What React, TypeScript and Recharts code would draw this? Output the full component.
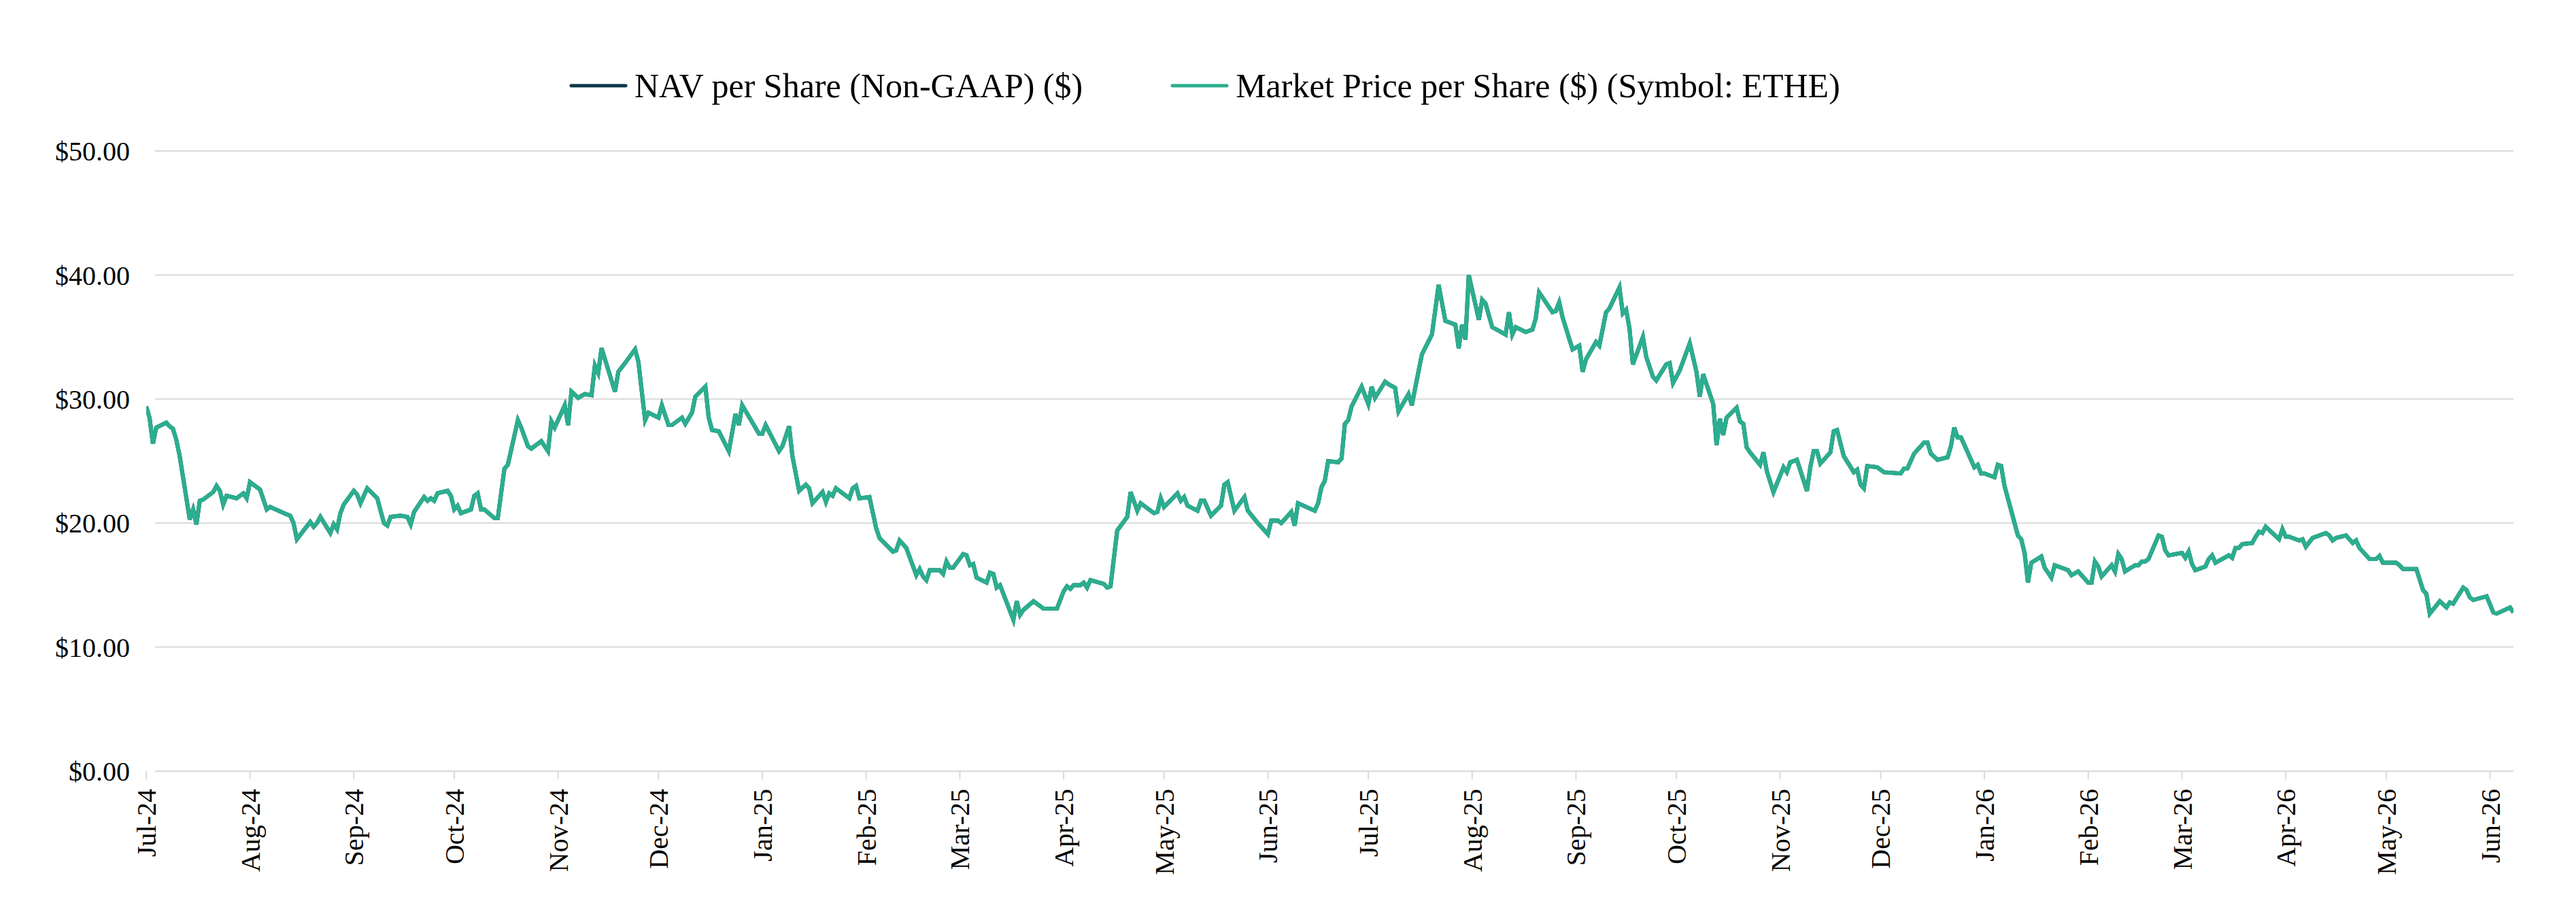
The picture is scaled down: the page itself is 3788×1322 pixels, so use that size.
import React from "react";
import { LineChart, Line, XAxis, YAxis, CartesianGrid, Legend } from "recharts";

// trading days, counted in days from 1 Jul 2024
const tradeDay = [
  0, 1, 2, 3, 6, 7, 8, 9, 10, 13, 14, 15, 16, 17, 20, 21, 22, 23, 24, 27, 29, 30, 31, 34, 36, 37,
  42, 43, 44, 45, 49, 50, 51, 52, 55, 56, 57, 58, 59, 62, 63, 64, 66, 69, 71, 72, 73, 76, 78, 79,
  80, 83, 84, 85, 86, 87, 90, 91, 92, 93, 94, 97, 98, 99, 100, 101, 104, 105, 107, 108, 111, 112,
  114, 115, 118, 120, 121, 122, 125, 126, 127, 129, 131, 133, 134, 135, 136, 140, 141, 143, 146,
  147, 149, 150, 153, 154, 156, 157, 160, 161, 163, 164, 167, 168, 169, 171, 174, 176, 177, 178,
  183, 184, 185, 189, 190, 192, 193, 195, 197, 198, 199, 202, 203, 204, 205, 206, 210, 211, 212,
  213, 216, 218, 219, 223, 224, 225, 227, 230, 231, 232, 233, 234, 237, 238, 239, 240, 241, 244,
  245, 246, 247, 248, 251, 252, 253, 254, 255, 259, 260, 261, 262, 265, 267, 268, 272, 274, 275,
  276, 277, 279, 280, 281, 282, 286, 287, 288, 290, 293, 294, 296, 297, 301, 302, 303, 304, 308,
  309, 310, 311, 314, 315, 316, 318, 321, 322, 323, 325, 328, 329, 332, 335, 336, 338, 339, 342,
  343, 344, 349, 350, 351, 352, 353, 356, 357, 358, 359, 360, 363, 365, 366, 367, 370, 371, 373,
  374, 377, 378, 379, 381, 384, 386, 388, 391, 392, 393, 394, 395, 398, 399, 400, 402, 406, 407,
  408, 409, 412, 414, 415, 416, 420, 421, 422, 423, 426, 428, 429, 430, 433, 434, 436, 437, 440,
  441, 442, 443, 444, 447, 448, 450, 451, 454, 455, 456, 458, 461, 463, 464, 465, 468, 469, 470,
  471, 472, 475, 476, 477, 478, 479, 482, 483, 484, 486, 489, 490, 491, 493, 496, 497, 498, 499,
  500, 503, 504, 505, 507, 510, 511, 512, 513, 514, 517, 519, 524, 525, 526, 528, 531, 532, 533,
  535, 538, 539, 540, 541, 542, 546, 547, 548, 549, 552, 553, 554, 555, 559, 560, 561, 562, 563,
  566, 567, 569, 570, 574, 575, 577, 580, 581, 582, 583, 584, 587, 588, 589, 590, 591, 594, 595,
  596, 597, 598, 601, 602, 603, 604, 608, 609, 610, 611, 612, 615, 616, 617, 618, 622, 623, 624,
  625, 626, 629, 630, 631, 632, 633, 637, 638, 639, 640, 643, 644, 645, 647, 651, 652, 653, 654,
  657, 659, 660, 661, 664, 666, 667, 668, 672, 673, 674, 678, 680, 681, 682, 685, 687, 688, 689,
  692, 693, 694, 695, 699, 701, 702, 706, 707,
];

const marketPrice = [
  29.4, 28.5, 26.4, 27.7, 28.1, 27.8, 27.6, 26.7, 25.4, 20.3, 21.1, 19.9, 21.8, 21.9, 22.5, 23.0, 22.6, 21.5, 22.2, 22.0, 22.4, 22.0, 23.3, 22.7, 21.1, 21.3,
  20.7, 20.6, 20.0, 18.7, 20.1, 19.7, 20.0, 20.5, 19.2, 19.9, 19.5, 20.8, 21.5, 22.6, 22.3, 21.6, 22.8, 22.0, 20.0, 19.8, 20.5, 20.6, 20.5, 19.9,
  20.9, 22.1, 21.8, 22.0, 21.8, 22.4, 22.6, 22.2, 21.1, 21.4, 20.8, 21.1, 22.2, 22.4, 21.1, 21.1, 20.4, 20.4, 24.4, 24.7, 28.3, 27.7,
  26.2, 26.0, 26.6, 25.8, 28.2, 27.7, 29.5, 27.9, 30.6, 30.1, 30.4, 30.3, 32.7, 32.1, 34.1, 30.6, 32.2, 32.9, 34.0,
  33.0, 28.3, 28.9, 28.5, 29.5, 27.9, 27.9, 28.5, 28.0, 28.9, 30.2, 31.0, 28.5, 27.5, 27.4, 25.8, 28.8, 27.9, 29.5,
  27.2, 27.2, 27.9, 25.8, 26.2, 27.8, 25.4, 22.6, 23.1, 22.8, 21.6, 22.5, 21.7, 22.4, 22.2, 22.8, 22.0, 22.8, 23.0,
  22.0, 22.1, 19.6, 18.8, 17.7, 17.8, 18.6, 18.0, 15.8, 16.3, 15.7, 15.4, 16.2, 16.2, 15.9, 16.9, 16.4, 16.4, 17.5,
  17.4, 16.6, 16.7, 15.6, 15.2, 16.0, 15.9, 14.8, 15.0, 12.2, 13.7, 12.6, 13.0, 13.7, 13.3, 13.1, 13.1, 14.5, 14.9,
  14.7, 15.0, 15.0, 15.2, 14.8, 15.4, 15.1, 14.8, 14.9, 19.4, 20.5, 22.5, 21.0, 21.6, 20.8, 20.9, 22.0, 21.3, 22.4,
  21.8, 22.1, 21.4, 21.0, 21.8, 21.8, 20.6, 21.4, 23.1, 23.3, 21.0, 22.1, 21.0, 20.0, 19.1, 20.2, 20.2, 20.0, 20.9,
  19.8, 21.6, 21.0, 21.6, 22.9, 23.4, 25.0, 24.9, 25.2, 28.0, 28.3, 29.4, 31.0, 29.6, 31.0, 30.1, 31.4, 31.2, 30.9,
  29.0, 30.4, 29.5, 30.9, 33.6, 35.2, 39.2, 36.3, 36.0, 34.1, 36.0, 34.8, 40.0, 36.4, 38.0, 37.7, 35.8, 35.2, 37.0,
  35.2, 35.8, 35.4, 35.6, 36.5, 38.6, 37.0, 37.1, 37.8, 36.6, 34.0, 34.3, 32.2, 33.2, 34.6, 34.3, 37.0, 37.3, 39.0,
  36.9, 37.2, 35.7, 32.8, 35.0, 33.4, 31.8, 31.5, 32.8, 32.9, 31.3, 32.3, 34.5, 32.2, 30.2, 32.0, 29.6, 26.3, 28.4,
  27.1, 28.5, 29.3, 28.2, 28.0, 26.1, 25.7, 24.7, 25.7, 24.2, 22.5, 24.5, 24.1, 24.9, 25.1, 22.6, 24.5, 25.8, 25.8,
  24.8, 25.7, 27.4, 27.5, 25.4, 24.1, 24.3, 23.1, 22.8, 24.6, 24.5, 24.1, 24.0, 24.4, 24.4, 25.6, 26.5, 26.5, 25.6,
  25.1, 25.3, 26.2, 27.7, 26.9, 26.9, 24.5, 24.7, 24.0, 24.0, 23.7, 24.7, 24.6, 23.0, 19.0, 18.7, 17.6, 15.2, 16.8,
  17.3, 16.4, 15.6, 16.6, 16.2, 15.8, 16.1, 15.2, 15.2, 16.9, 16.5, 15.7, 16.6, 16.1, 17.5, 17.1, 16.1, 16.6, 16.6,
  16.9, 16.9, 17.1, 19.0, 18.9, 17.8, 17.4, 17.6, 17.2, 17.7, 16.7, 16.2, 16.5, 17.1, 17.4, 16.8, 17.4, 17.2, 18.0,
  18.0, 18.3, 18.4, 18.9, 19.3, 19.2, 19.7, 18.7, 19.5, 18.9, 18.9, 18.6, 18.7, 18.1, 18.8, 19.2, 19.0, 18.6, 18.8,
  19.0, 18.4, 18.6, 18.0, 17.1, 17.1, 17.35, 16.8, 16.8, 16.6, 16.3, 16.3, 14.6, 14.3, 12.7, 13.7, 13.2, 13.6, 13.5,
  14.8, 14.6, 14.0, 13.8, 14.1, 12.8, 12.7, 13.2, 12.8,
];

// NAV per share sits exactly under the market price line in the picture
const navPerShare = marketPrice;

const monthLabels = [
  "Jul-24", "Aug-24", "Sep-24", "Oct-24", "Nov-24", "Dec-24",
  "Jan-25", "Feb-25", "Mar-25", "Apr-25", "May-25", "Jun-25",
  "Jul-25", "Aug-25", "Sep-25", "Oct-25", "Nov-25", "Dec-25",
  "Jan-26", "Feb-26", "Mar-26", "Apr-26", "May-26", "Jun-26",
];

const yTicks = [0, 10, 20, 30, 40, 50];

const MONTHS = ["Jan", "Feb", "Mar", "Apr", "May", "Jun", "Jul", "Aug", "Sep", "Oct", "Nov", "Dec"];
const DAY_MS = 86400000;
const START = Date.UTC(2024, 6, 1);
const END = Date.UTC(2026, 5, 8);

const NAV_COLOR = "#0c3947";
const PRICE_COLOR = "#2bae8f";
const GRID_COLOR = "#d9d9d9";
const FONT = '"Liberation Serif", "Times New Roman", serif';

const NAV_NAME = "NAV per Share (Non-GAAP) ($)";
const PRICE_NAME = "Market Price per Share ($) (Symbol: ETHE)";
const legendOrder = [NAV_NAME, PRICE_NAME];

const labelToTs = (label: string) => {
  const [m, y] = label.split("-");
  return Date.UTC(2000 + Number(y), MONTHS.indexOf(m), 1);
};

const monthTicks = monthLabels.map(labelToTs);

const data = tradeDay.map((d, i) => ({
  date: START + d * DAY_MS,
  nav: navPerShare[i],
  price: marketPrice[i],
}));

const formatMonth = (ts: number) => {
  const dt = new Date(ts);
  return `${MONTHS[dt.getUTCMonth()]}-${String(dt.getUTCFullYear()).slice(2)}`;
};

const MonthTick = (props: any) => {
  const { x, y, payload } = props;
  return (
    <text
      x={x}
      y={y}
      dy="0.35em"
      textAnchor="end"
      transform={`rotate(-90 ${x} ${y})`}
      fontSize={40}
      fontFamily={FONT}
      fill="#000"
    >
      {formatMonth(payload.value)}
    </text>
  );
};

const LegendContent = (props: any) => {
  const items = [...(props.payload || [])].sort(
    (a: any, b: any) => legendOrder.indexOf(a.value) - legendOrder.indexOf(b.value)
  );
  return (
    <div style={{ display: "flex", alignItems: "center", fontFamily: FONT, fontSize: 50, lineHeight: "50px", whiteSpace: "nowrap" }}>
      {items.map((entry: any, i: number) => (
        <div key={entry.value} style={{ display: "flex", alignItems: "center", marginRight: i === 0 ? 129 : 0 }}>
          <svg width={86} height={10} style={{ marginRight: 10 }}>
            <line x1={3} y1={5} x2={83} y2={5} stroke={entry.color} strokeWidth={5} strokeLinecap="round" />
          </svg>
          <span style={{ color: "#000" }}>{entry.value}</span>
        </div>
      ))}
    </div>
  );
};

export default function App() {
  return (
    <LineChart
      width={3780}
      height={1306}
      data={data}
      margin={{ top: 214, right: 92, bottom: 0, left: 0 }}
      style={{ fontFamily: FONT }}
    >
      <CartesianGrid x={220} width={3468} vertical={false} stroke={GRID_COLOR} strokeWidth={2} />
      <XAxis
        dataKey="date"
        type="number"
        domain={[START, END]}
        ticks={monthTicks}
        allowDataOverflow
        axisLine={false}
        tickLine={{ stroke: GRID_COLOR, strokeWidth: 2 }}
        tickSize={12}
        tickMargin={14}
        height={180}
        interval={0}
        tick={<MonthTick />}
      />
      <YAxis
        domain={[0, 50]}
        ticks={yTicks}
        width={207}
        axisLine={false}
        tickLine={false}
        tickSize={0}
        tickMargin={24}
        tick={{ fontSize: 40, fill: "#000", fontFamily: FONT }}
        tickFormatter={(v: number) => `$${v.toFixed(2)}`}
      />
      <Legend
        layout="horizontal"
        verticalAlign="middle"
        align="center"
        itemSorter="dataKey"
        content={<LegendContent />}
        wrapperStyle={{ top: 93, left: 829, width: "auto", height: 50 }}
      />
      <Line
        type="linear"
        dataKey="nav"
        name={NAV_NAME}
        stroke={NAV_COLOR}
        strokeWidth={6}
        dot={false}
        activeDot={false}
        isAnimationActive={false}
      />
      <Line
        type="linear"
        dataKey="price"
        name={PRICE_NAME}
        stroke={PRICE_COLOR}
        strokeWidth={6}
        dot={false}
        activeDot={false}
        isAnimationActive={false}
      />
    </LineChart>
  );
}
